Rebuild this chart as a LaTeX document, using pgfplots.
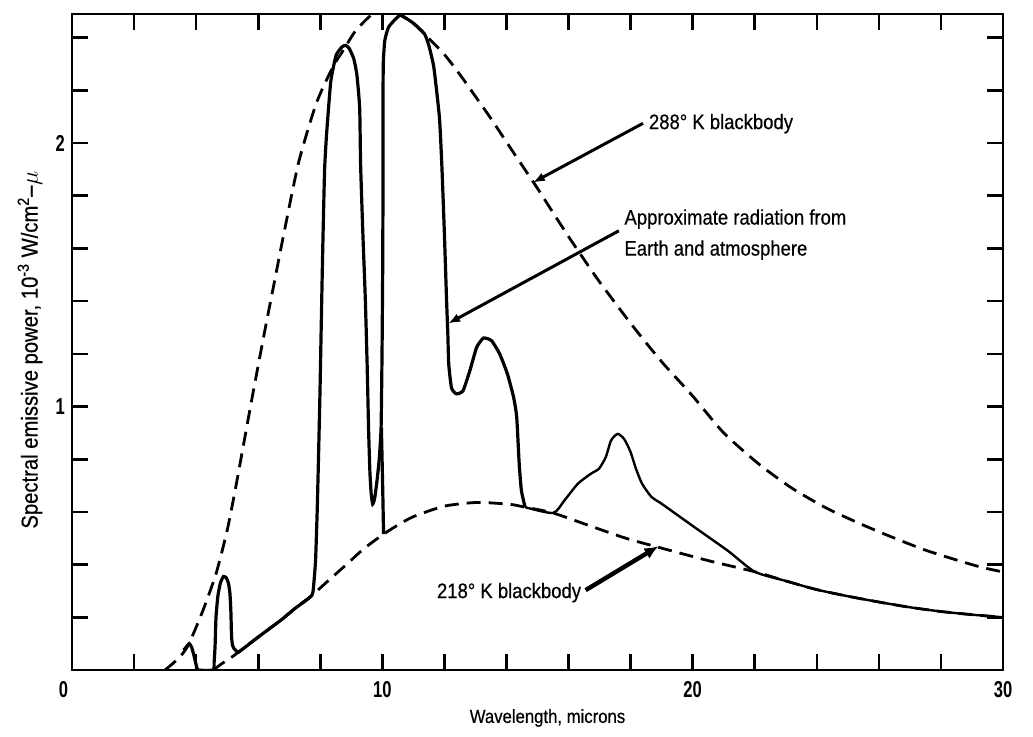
\documentclass[border=0pt]{standalone}
\usepackage{fontspec}
\setmainfont{Liberation Sans}[FakeStretch=0.88, FakeBold=0.5]
\newfontfamily\tickfont{Liberation Sans}[FakeStretch=0.72]
\usepackage{pgfplots}
\pgfplotsset{compat=1.18}
\usetikzlibrary{arrows.meta}

\pgfplotstableread{
x y
3.00 0.00
3.30 0.03
3.55 0.06
3.77 0.10
4.20 0.22
4.64 0.365
5.00 0.53
5.27 0.69
5.55 0.87
5.83 1.05
6.20 1.28
6.50 1.46
6.85 1.67
7.31 1.93
7.87 2.15
8.41 2.29
8.73 2.35
9.10 2.42
9.49 2.47
9.90 2.51
10.30 2.52
10.60 2.485
11.00 2.455
11.36 2.414
12.00 2.336
12.50 2.26
13.00 2.177
13.50 2.093
14.00 2.004
14.50 1.916
15.00 1.828
15.50 1.736
16.00 1.645
16.50 1.558
17.00 1.473
18.00 1.316
19.00 1.17
20.00 1.040
21.00 0.90
22.15 0.78
23.20 0.69
24.30 0.615
25.40 0.555
26.45 0.503
27.50 0.455
28.60 0.414
29.30 0.39
30.00 0.372
}\bbhot

\pgfplotstableread{
x y
4.55 0.00
4.84 0.025
5.10 0.045
5.37 0.068
6.00 0.125
6.74 0.19
7.20 0.235
7.73 0.283
8.21 0.334
8.84 0.40
9.40 0.46
10.03 0.515
10.50 0.550
11.00 0.582
12.00 0.622
13.05 0.636
14.10 0.629
14.60 0.618
15.50 0.596
16.74 0.545
17.85 0.50
18.92 0.465
20.54 0.414
22.00 0.373
23.00 0.338
24.00 0.305
25.00 0.280
26.00 0.258
27.00 0.238
28.00 0.222
29.00 0.210
30.00 0.200
}\bbcold

\pgfplotstableread{
x y
3.60 0.075
3.70 0.09
3.78 0.10
3.86 0.085
3.94 0.05
4.00 0.02
4.06 0.00
4.55 0.00
4.58 0.03
4.61 0.09
4.64 0.20
4.70 0.28
4.78 0.33
4.88 0.355
4.97 0.35
5.04 0.33
5.09 0.29
5.12 0.22
5.14 0.13
5.17 0.095
5.23 0.08
5.30 0.072
5.37 0.068
6.00 0.125
6.74 0.19
7.20 0.235
7.73 0.283
7.80 0.34
7.85 0.42
7.90 0.60
7.94 0.79
7.99 1.05
8.03 1.30
8.08 1.60
8.14 1.90
8.21 2.045
8.34 2.235
8.51 2.333
8.70 2.365
8.82 2.371
8.93 2.36
9.08 2.32
9.18 2.259
9.27 2.133
9.30 1.918
9.37 1.665
9.45 1.413
9.51 1.16
9.56 0.90
9.60 0.75
9.64 0.67
9.69 0.63
9.75 0.65
9.82 0.71
9.90 0.80
9.96 0.92
9.99 1.20
10.01 1.50
10.02 1.79
10.02 2.10
10.03 2.30
10.08 2.39
10.20 2.44
10.42 2.47
10.60 2.485
11.00 2.455
11.36 2.414
11.50 2.37
11.66 2.287
11.84 2.097
11.92 1.908
12.00 1.655
12.07 1.403
12.11 1.277
12.14 1.16
12.23 1.07
12.39 1.048
12.60 1.06
12.82 1.136
13.04 1.225
13.26 1.26
13.52 1.25
13.78 1.20
14.03 1.124
14.23 1.035
14.33 0.96
14.41 0.783
14.48 0.682
14.60 0.618
}\earthA

\pgfplotstableread{
x y
14.60 0.618
15.50 0.596
15.87 0.644
16.30 0.707
16.72 0.745
16.98 0.764
17.20 0.808
17.37 0.871
17.58 0.896
17.79 0.877
17.99 0.83
18.17 0.765
18.37 0.707
18.68 0.656
19.00 0.631
20.07 0.541
21.14 0.452
22.00 0.373
23.00 0.338
24.00 0.305
25.00 0.280
26.00 0.258
27.00 0.238
28.00 0.222
29.00 0.210
30.00 0.200
}\earthB

\pgfplotstableread{
x y
10.04 0.516
10.01 0.70
9.97 0.92
}\earthC

\begin{document}
\begin{tikzpicture}
\begin{axis}[
  scale only axis, width=465.5pt, height=328pt,
  xmin=0, xmax=30, ymin=0, ymax=2.49,
  axis line style={line width=1.3pt},
  tick style={line width=1.3pt, black},
  major tick length=8pt,
  tick align=inside, tick pos=both,
  xtick={0,2,...,30},
  xticklabels={\makebox[0pt][r]{0\hspace{2pt}},,,,,10,,,,,20,,,,,30},
  ytick={0.2,0.4,0.6,0.8,1.0,1.2,1.4,1.6,1.8,2.0,2.2,2.4},
  yticklabels={,,,,1,,,,,2,,},
  ticklabel style={font=\fontsize{11.5}{13}\tickfont\bfseries},
  xticklabel style={yshift=-2pt},
  clip mode=individual,
]
\addplot[black, line width=1.4pt, dash pattern=on 7pt off 4pt, smooth, tension=0.4] table {\bbhot};
\addplot[black, line width=1.4pt, dash pattern=on 7pt off 4pt, smooth, tension=0.4] table {\bbcold};
\addplot[black, line width=1.6pt, smooth, tension=0.3] table {\earthA};
\addplot[black, line width=1.2pt, smooth, tension=0.4] table {\earthB};
\addplot[black, line width=1.6pt, smooth, tension=0.3] table {\earthC};

\draw[line width=1.5pt, -{Latex[length=6pt,width=4.5pt]}] (axis cs:18.4,2.075) -- (axis cs:14.85,1.85);
\node[anchor=base west, inner sep=0pt, font=\fontsize{10.5}{13}\selectfont] at (axis cs:18.58,2.053) {288° K blackbody};

\draw[line width=1.5pt, -{Latex[length=6pt,width=4.5pt]}] (axis cs:17.62,1.667) -- (axis cs:12.12,1.315);
\node[anchor=north west, inner sep=0pt, align=left, font=\fontsize{10.5}{15.5}\selectfont] at (axis cs:17.79,1.75) {Approximate radiation from\\Earth and atmosphere};

\draw[line width=2.2pt, -{Latex[length=7pt,width=6pt]}] (axis cs:16.55,0.303) -- (axis cs:18.9,0.47);
\node[anchor=base west, inner sep=0pt, font=\fontsize{10.5}{13}\selectfont] at (axis cs:11.75,0.273) {218° K blackbody};

\node[rotate=90, anchor=center, inner sep=0pt, font=\fontsize{11.5}{13}\selectfont] at ([xshift=-21pt,yshift=-4pt]rel axis cs:0,0.5) {Spectral emissive power, 10\textsuperscript{-3} W/cm\textsuperscript{2}--$\mu$};
\node[anchor=center, inner sep=0pt, font=\fontsize{9.5}{12}\selectfont] at ([xshift=5pt,yshift=-24pt]rel axis cs:0.5,0) {Wavelength, microns};
\end{axis}
\path (current axis.south west) ++(-36pt,-33.5pt) rectangle ++(516.5pt,368.5pt);
\end{tikzpicture}
\end{document}
